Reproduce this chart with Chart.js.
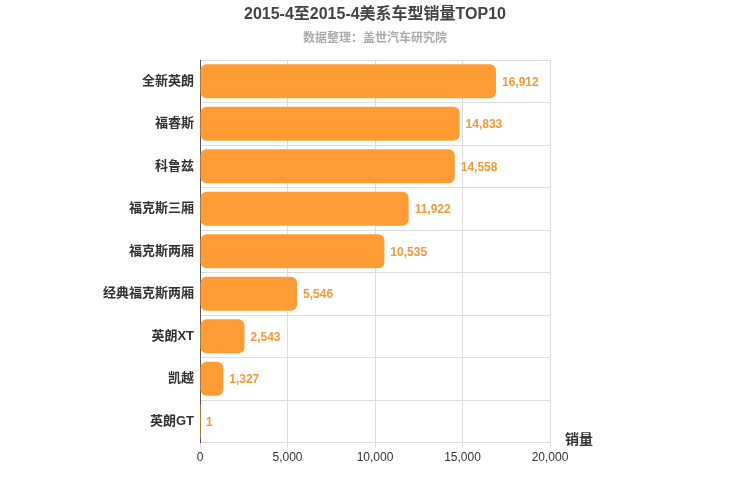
<!DOCTYPE html>
<html><head><meta charset="utf-8">
<script src="https://cdn.jsdelivr.net/npm/chart.js@4"></script>
<style>body{margin:0;background:#fff}#w{width:750px;height:500px}</style>
</head><body><div id="w"><canvas id="c"></canvas></div>
<script>
const categories=["全新英朗","福睿斯","科鲁兹","福克斯三厢","福克斯两厢","经典福克斯两厢","英朗XT","凯越","英朗GT"];
const sales=[16912,14833,14558,11922,10535,5546,2543,1327,1];
const xTicks=[0,5000,10000,15000,20000];
const titleText='2015-4至2015-4美系车型销量TOP10';
const subtitleText='数据整理：盖世汽车研究院';
const F='"Helvetica Neue",Arial,"Noto Sans CJK SC",sans-serif';
const labelPlugin={id:'lbl',afterDatasetsDraw(ch){const ctx=ch.ctx;const m=ch.getDatasetMeta(0);ctx.save();ctx.font='bold 12px '+F;ctx.fillStyle='#f29a3a';ctx.textBaseline='middle';m.data.forEach((b,i)=>{ctx.fillText(sales[i].toLocaleString('en-US'),b.x+6,b.y+1);});
ctx.fillStyle='#333';ctx.font='bold 14px '+F;const a=ch.chartArea;ctx.fillText('销量',a.right+15,a.bottom-2);
ctx.textAlign='center';ctx.fillStyle='#444';ctx.font='bold 16px '+F;ctx.fillText(titleText,375,15);
ctx.fillStyle='#aaa';ctx.font='bold 12px '+F;ctx.fillText(subtitleText,375,39);ctx.restore();}};
new Chart(document.getElementById('c'),{type:'bar',data:{labels:categories,datasets:[{data:sales,backgroundColor:'#ff9c35',borderRadius:6,borderSkipped:false,barPercentage:0.8,categoryPercentage:1}]},
options:{indexAxis:'y',responsive:true,maintainAspectRatio:false,animation:false,
layout:{padding:{left:0,right:200,top:60,bottom:32}},
plugins:{legend:{display:false},tooltip:{enabled:false},title:{display:false}},
scales:{x:{min:0,max:20000,afterBuildTicks(s){s.ticks=xTicks.map(v=>({value:v}));},ticks:{color:'#333',font:{size:12,family:F},callback:v=>v.toLocaleString('en-US')},grid:{color:'#ddd',drawTicks:true,tickLength:5},border:{color:'#ddd'}},
y:{afterFit(s){s.width=200;},ticks:{color:'#333',font:{size:13,weight:'bold',family:F},padding:6},grid:{offset:true,color:'#ddd',tickLength:0},border:{color:'#555'}}}},
plugins:[labelPlugin]});
</script></body></html>
